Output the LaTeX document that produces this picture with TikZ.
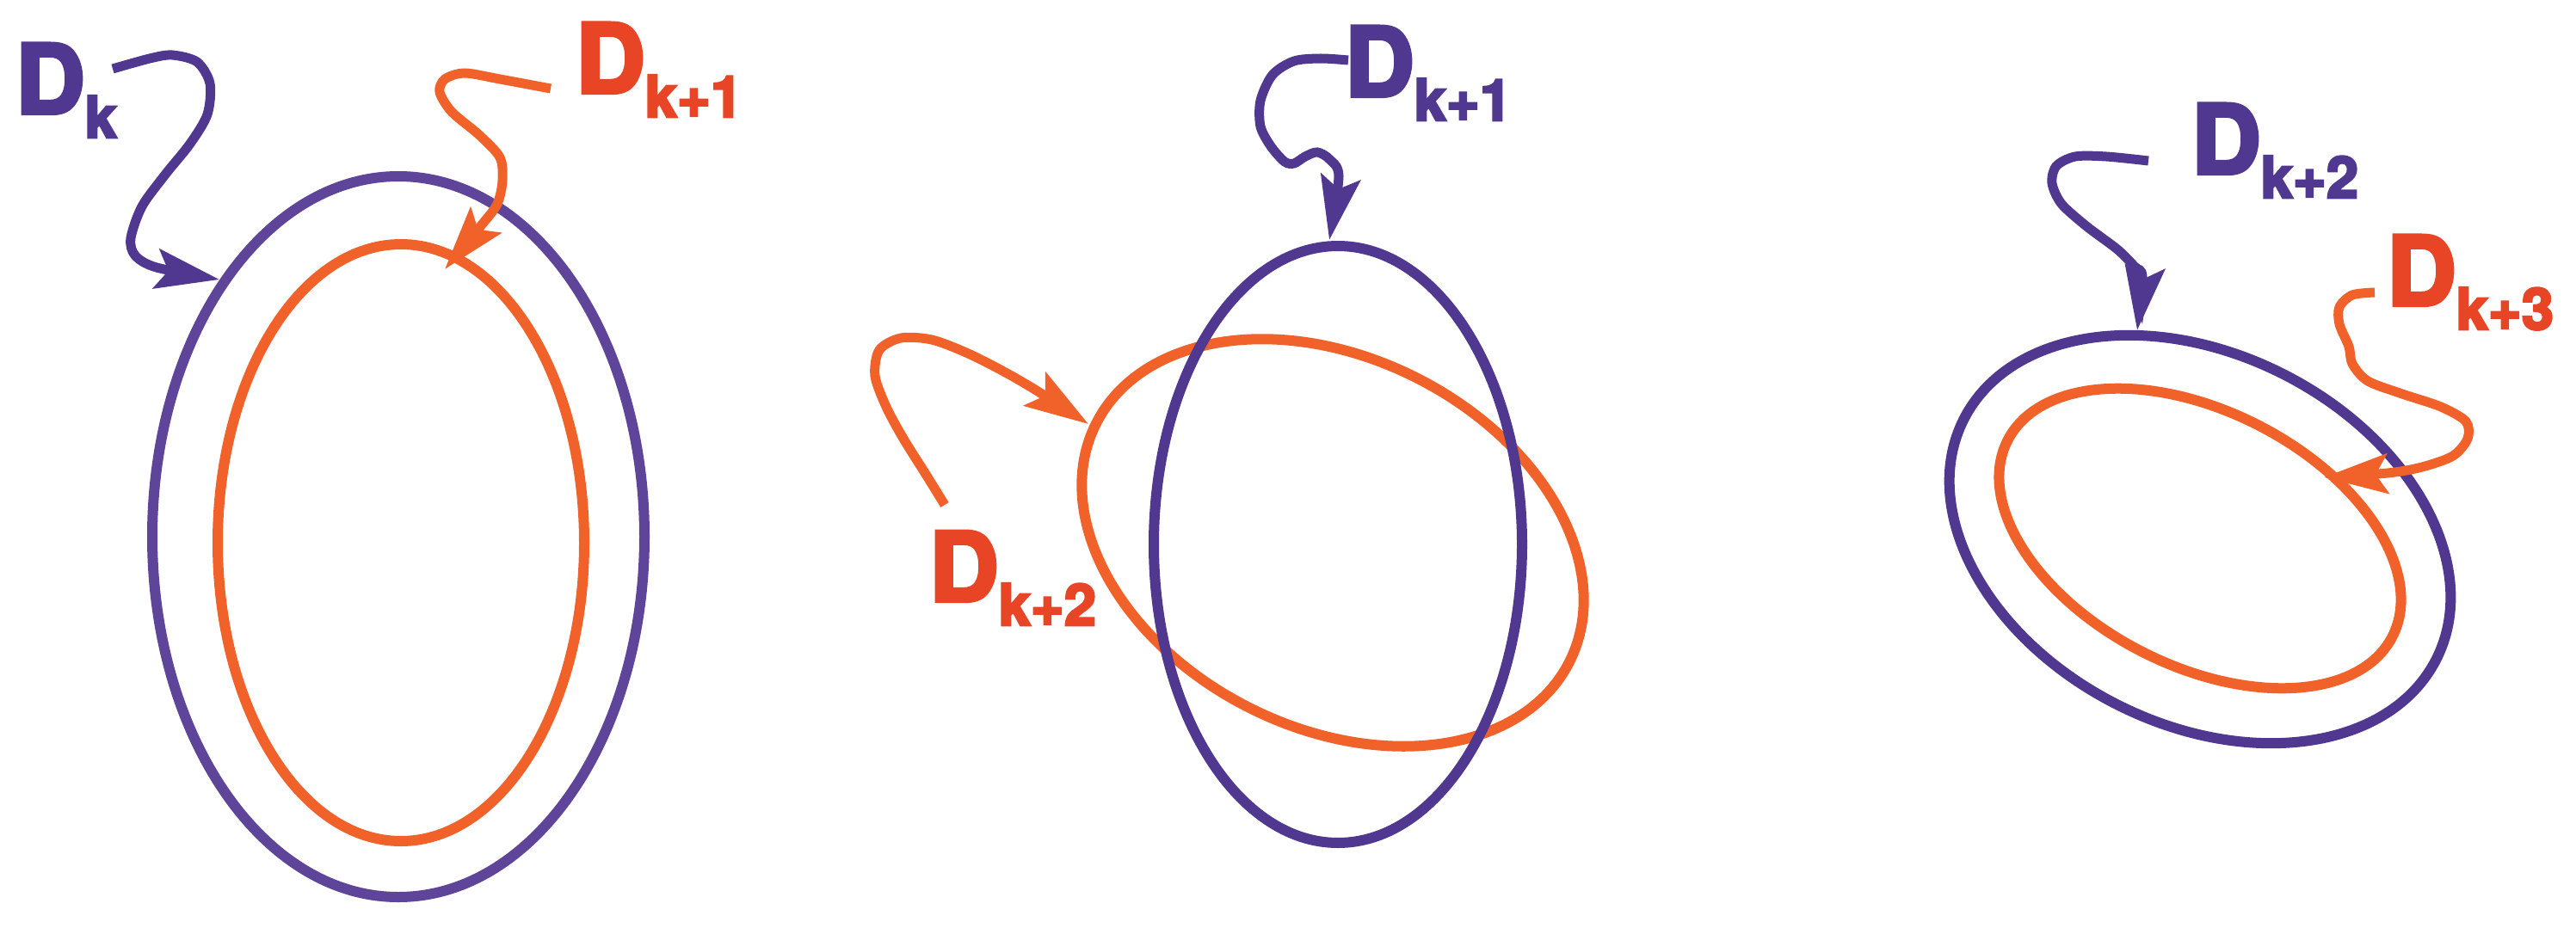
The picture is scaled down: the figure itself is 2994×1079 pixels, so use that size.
\documentclass[tikz,border=0pt]{standalone}
\usepackage{fontspec}
\setmainfont{TeX Gyre Heros}
\newfontfamily\labfont{texgyreheros-bold}[Extension=.otf,FakeBold=4]
\usetikzlibrary{arrows.meta}
\definecolor{dpurple}{RGB}{80,56,145}
\definecolor{lpurple}{RGB}{95,69,153}
\definecolor{dorange}{RGB}{240,98,42}
\definecolor{dred}{RGB}{232,68,38}
\newcommand{\dsub}[1]{\raisebox{-0.28cm}{\fontsize{19pt}{19pt}\selectfont #1}}

\begin{document}
\begin{tikzpicture}[x=0.01cm,y=-0.01cm,
  curve/.style={line width=0.12cm},
  arr/.style={line width=0.11cm,-{Stealth[length=0.74cm,width=0.46cm,inset=0.14cm]}},
  lab/.style={anchor=base west,inner sep=0pt,font=\labfont\fontsize{31.7pt}{32pt}\selectfont}]
\useasboundingbox (0,0) rectangle (2994,1079);

% labels
\node[lab,dpurple] (Dk) at (17.5,132) {D\dsub{k}};
\node[lab,dred] (Dkone) at (668.5,108) {D\dsub{k+1}};
\node[lab,dpurple] (Dmidone) at (1562.5,112) {D\dsub{k+1}};
\node[lab,dred] (Dmidtwo) at (1079.5,699) {D\dsub{k+2}};
\node[lab,dpurple] (Drtwo) at (2546.5,202) {D\dsub{k+2}};
\node[lab,dred] (Drthree) at (2773.5,355) {D\dsub{k+3}};

% discs
\draw[curve,dorange] (466,631) ellipse [x radius=213,y radius=347];
\draw[curve,lpurple] (463,624) ellipse [x radius=286,y radius=419];
\draw[curve,dorange,rotate around={-26.7:(1549,631)}] (1549,631) ellipse [x radius=308,y radius=215];
\draw[curve,dpurple] (1555,633) ellipse [x radius=214,y radius=347];
\draw[curve,dpurple,rotate around={-27:(2557,627)}] (2557,627) ellipse [x radius=308,y radius=215];
\draw[curve,dorange,rotate around={-27:(2557,626)}] (2557,626) ellipse [x radius=251,y radius=148];

% ends of the arrows
\coordinate (sk) at (131,80);        \coordinate (tk) at (255,325);
\coordinate (skone) at (640,103);    \coordinate (tkone) at (517,313);
\coordinate (smidone) at (1567,70);  \coordinate (tmidone) at (1545,279);
\coordinate (smidtwo) at (1098,587); \coordinate (tmidtwo) at (1265,493);
\coordinate (srtwo) at (2497,187);   \coordinate (trtwo) at (2484,384);
\coordinate (srthree) at (2760,340); \coordinate (trthree) at (2701,555);

% arrows
\draw[arr,dpurple] plot[smooth] coordinates {(sk) (174,68) (200,64) (229,72) (244,97)
  (241,133) (221,167) (192,203) (165,240) (152,277) (157,297) (182,311) (tk)};
\draw[arr,dpurple] plot[smooth] coordinates {(smidone) (1535,68) (1504,71) (1479,87)
  (1465,117) (1465,147) (1477,170) (1493,188) (1504,190) (1517,182) (1531,177)
  (1545,185) (1556,205) (tmidone)};
\draw[arr,dpurple] plot[smooth] coordinates {(srtwo) (2448,182) (2412,182) (2390,193)
  (2385,213) (2396,237) (2425,263) (2461,290) (2481,310) (2490,322) (trtwo)};
\draw[arr,dorange] plot[smooth] coordinates {(skone) (581,92) (540,85) (517,92) (511,107)
  (525,130) (557,157) (581,183) (584,210) (578,237) (561,260) (tkone)};
\draw[arr,dorange] plot[smooth] coordinates {(smidtwo) (1077,553) (1050,510) (1030,473)
  (1017,437) (1022,407) (1047,393) (1083,395) (1123,410) (1163,430) (1203,453) (tmidtwo)};
\draw[arr,dorange] plot[smooth] coordinates {(srthree) (2734,343) (2719,357) (2719,377)
  (2730,403) (2734,423) (2752,443) (2792,458) (2837,473) (2866,490) (2868,510)
  (2851,530) (2815,543) (2775,550) (trthree)};
\end{tikzpicture}
\end{document}
